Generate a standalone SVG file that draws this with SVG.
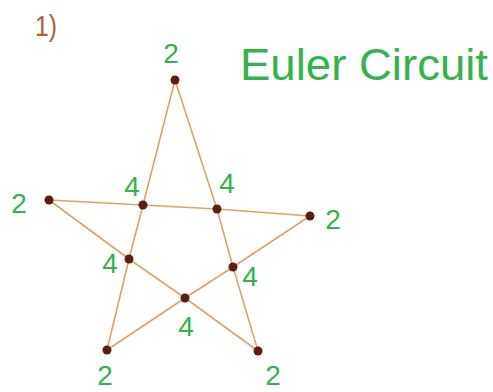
<svg xmlns="http://www.w3.org/2000/svg" width="493" height="392" viewBox="0 0 493 392">
<style>
.e{fill:none;stroke:#d6a46c;stroke-width:1.6;stroke-linejoin:round;stroke-linecap:round}
.v{fill:#5c1d12}
.g{fill:#34b24c;font-family:"Liberation Sans",sans-serif;font-size:28px;text-anchor:middle}
.t{fill:#34b24c;font-family:"Liberation Sans",sans-serif;font-size:44px}
.n{fill:#a8623c;font-family:"Liberation Sans",sans-serif;font-size:30px}
</style>
<rect width="493" height="392" fill="#ffffff"/>
<text class="n" x="35" y="36" textLength="22" lengthAdjust="spacingAndGlyphs">1)</text>
<text class="t" x="240" y="80" textLength="248" lengthAdjust="spacingAndGlyphs">Euler Circuit</text>
<g id="connectors">
<polyline class="e" points="175,80 143,205 129,259 107,350"/>
<polyline class="e" points="175,80 217,209 233,267 258,351"/>
<polyline class="e" points="49,200 143,205 217,209 310,216"/>
<polyline class="e" points="49,200 129,259 185,298 258,351"/>
<polyline class="e" points="310,216 233,267 185,298 107,350"/>
</g>
<g id="top"><circle class="v" cx="175" cy="80" r="4.5"/><text class="g" x="171" y="63">2</text></g>
<g id="left"><circle class="v" cx="49" cy="200" r="4.5"/><text class="g" x="19" y="213">2</text></g>
<g id="right"><circle class="v" cx="310" cy="216" r="4.5"/><text class="g" x="333" y="229">2</text></g>
<g id="bottom-left"><circle class="v" cx="107" cy="350" r="4.5"/><text class="g" x="105" y="385">2</text></g>
<g id="bottom-right"><circle class="v" cx="258" cy="351" r="4.5"/><text class="g" x="273" y="385">2</text></g>
<g id="inner-upper-left"><circle class="v" cx="143" cy="205" r="4.5"/><text class="g" x="132" y="196">4</text></g>
<g id="inner-upper-right"><circle class="v" cx="217" cy="209" r="4.5"/><text class="g" x="227" y="193">4</text></g>
<g id="inner-left"><circle class="v" cx="129" cy="259" r="4.5"/><text class="g" x="110" y="273">4</text></g>
<g id="inner-right"><circle class="v" cx="233" cy="267" r="4.5"/><text class="g" x="250" y="286">4</text></g>
<g id="inner-bottom"><circle class="v" cx="185" cy="298" r="4.5"/><text class="g" x="186" y="336">4</text></g>
</svg>
